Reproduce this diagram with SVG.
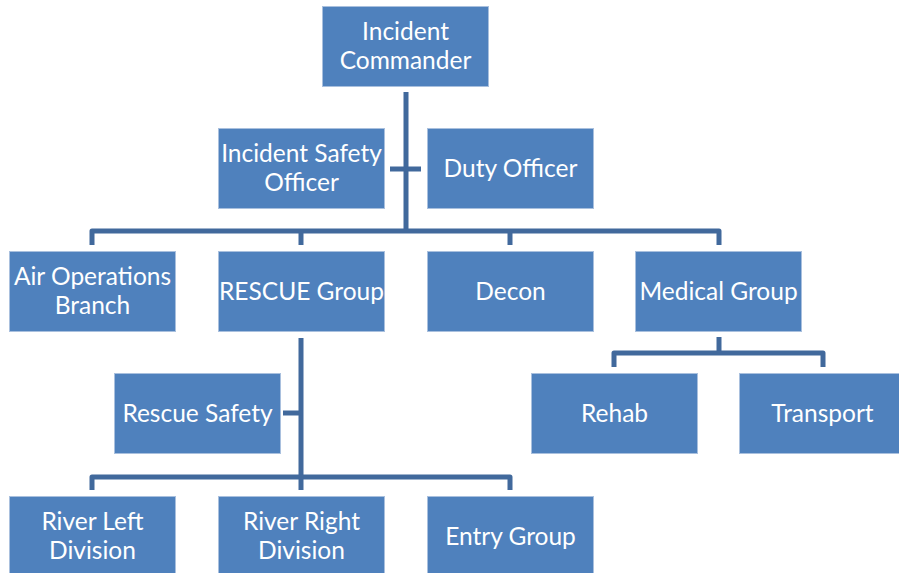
<svg xmlns="http://www.w3.org/2000/svg" width="899" height="573" viewBox="0 0 899 573">
<style>
.box{fill:#4F81BD;stroke:#A9C0DE;stroke-width:1}
.t{fill:#ffffff;font-family:Lato,"Open Sans","Liberation Sans",sans-serif;font-size:24.5px;text-anchor:middle}
.c{fill:none;stroke:#41699C;stroke-width:5;stroke-linejoin:round}
</style>
<rect width="899" height="573" fill="#ffffff"/>
<g id="connectors">
<path class="c" d="M406,92 V231"/>
<path class="c" d="M390,169 H421"/>
<path class="c" d="M92,245 V231 H719 V245"/>
<path class="c" d="M301,231 V245"/>
<path class="c" d="M510,231 V245"/>
<path class="c" d="M301,338 V477"/>
<path class="c" d="M283,413 H301"/>
<path class="c" d="M92,490 V477 H510 V490"/>
<path class="c" d="M301,477 V490"/>
<path class="c" d="M719,337 V353"/>
<path class="c" d="M614,367 V353 H823 V367"/>
</g>
<g id="incident-commander"><rect class="box" x="322.5" y="6.5" width="166" height="80"/><text class="t" x="405.5" y="40">Incident</text><text class="t" x="405.5" y="69">Commander</text></g>
<g id="incident-safety-officer"><rect class="box" x="218.5" y="128.5" width="166" height="80"/><text class="t" x="301.5" y="162">Incident Safety</text><text class="t" x="301.5" y="191">Officer</text></g>
<g id="duty-officer"><rect class="box" x="427.5" y="128.5" width="166" height="80"/><text class="t" x="510.5" y="177">Duty Officer</text></g>
<g id="air-operations"><rect class="box" x="9.5" y="251.5" width="166" height="80"/><text class="t" x="92.5" y="285">Air Operations</text><text class="t" x="92.5" y="314">Branch</text></g>
<g id="rescue-group"><rect class="box" x="218.5" y="251.5" width="166" height="80"/><text class="t" x="301.5" y="300">RESCUE Group</text></g>
<g id="decon"><rect class="box" x="427.5" y="251.5" width="166" height="80"/><text class="t" x="510.5" y="300">Decon</text></g>
<g id="medical-group"><rect class="box" x="635.5" y="251.5" width="166" height="80"/><text class="t" x="718.5" y="300">Medical Group</text></g>
<g id="rescue-safety"><rect class="box" x="114.5" y="373.5" width="166" height="80"/><text class="t" x="197.5" y="422">Rescue Safety</text></g>
<g id="rehab"><rect class="box" x="531.5" y="373.5" width="166" height="80"/><text class="t" x="614.5" y="422">Rehab</text></g>
<g id="transport"><rect class="box" x="739.5" y="373.5" width="166" height="80"/><text class="t" x="822.5" y="422">Transport</text></g>
<g id="river-left"><rect class="box" x="9.5" y="496.5" width="166" height="80"/><text class="t" x="92.5" y="530">River Left</text><text class="t" x="92.5" y="559">Division</text></g>
<g id="river-right"><rect class="box" x="218.5" y="496.5" width="166" height="80"/><text class="t" x="301.5" y="530">River Right</text><text class="t" x="301.5" y="559">Division</text></g>
<g id="entry-group"><rect class="box" x="427.5" y="496.5" width="166" height="80"/><text class="t" x="510.5" y="545">Entry Group</text></g>
</svg>
